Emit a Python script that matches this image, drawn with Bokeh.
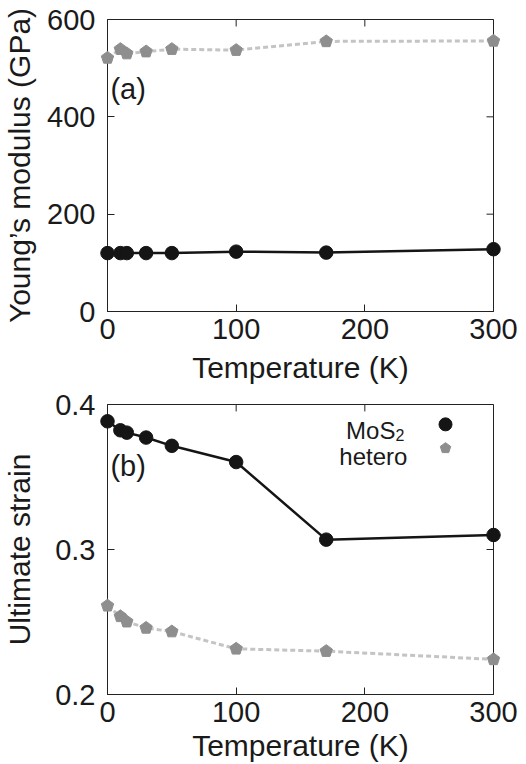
from bokeh.plotting import figure
from bokeh.models import Range1d, FixedTicker, Label
from bokeh.layouts import column
from bokeh.embed import file_html
from bokeh.resources import INLINE

# ---------------- data ----------------
temperature = [0, 10, 15, 30, 50, 100, 170, 300]
young_mos2 = [120, 120, 120, 120, 120, 123, 121, 128]
young_hetero = [521, 539, 530, 534, 539, 537, 555, 556]
strain_mos2 = [0.3884, 0.3822, 0.3806, 0.3772, 0.3715, 0.3603, 0.3068, 0.3100]
strain_hetero = [0.2612, 0.2539, 0.2502, 0.2459, 0.2434, 0.2315, 0.2299, 0.2242]

x_ticks = [0, 100, 200, 300]
young_ticks = [0, 200, 400, 600]
strain_ticks = [0.2, 0.3, 0.4]

FONT = "Liberation Sans"
TXT = "#1a1a1a"
AXC = "#222222"
BLACK = "#151515"
GRAY_MK = "#8e8e8e"
GRAY_LN = "#c4c4c4"

FRAME_W = 386
TICK_LEN = 7


def style_axes(p, xt, yt, ylab, x_label_standoff, y_label_standoff, frame_h):
    for ax in p.xaxis + p.yaxis:
        ax.major_label_text_font = FONT
        ax.major_label_text_font_size = "29px"
        ax.major_label_text_color = TXT
        ax.axis_label_text_font = FONT
        ax.axis_label_text_font_size = "30px"
        ax.axis_label_text_font_style = "normal"
        ax.axis_label_text_color = TXT
        ax.axis_line_color = AXC
        ax.major_tick_line_color = AXC
        ax.major_tick_in = TICK_LEN
        ax.major_tick_out = 0
        ax.minor_tick_line_color = None
    p.xaxis.ticker = FixedTicker(ticks=xt)
    p.yaxis.ticker = FixedTicker(ticks=yt)
    p.xaxis.axis_label = "Temperature (K)"
    p.yaxis.axis_label = ylab
    p.xaxis.major_label_standoff = 7
    p.yaxis.major_label_standoff = 12
    p.xaxis.axis_label_standoff = x_label_standoff
    p.yaxis.axis_label_standoff = y_label_standoff
    p.xgrid.grid_line_color = None
    p.ygrid.grid_line_color = None
    p.outline_line_color = AXC
    # mirrored inward ticks on the top and right edges of the frame
    x0, x1 = p.x_range.start, p.x_range.end
    y0, y1 = p.y_range.start, p.y_range.end
    dy = (y1 - y0) * TICK_LEN / frame_h
    dx = (x1 - x0) * TICK_LEN / FRAME_W
    p.segment(x0=xt, y0=[y1] * len(xt), x1=xt, y1=[y1 - dy] * len(xt),
              line_color=AXC, line_width=1)
    p.segment(x0=[x1] * len(yt), y0=yt, x1=[x1 - dx] * len(yt), y1=yt,
              line_color=AXC, line_width=1)


def add_series(p, ym, yh):
    p.line(temperature, yh, line_color=GRAY_LN, line_width=3, line_dash="5 3")
    p.ngon(x=temperature, y=yh, radius=6.5, radius_units="screen", n=5,
           fill_color=GRAY_MK, line_color=GRAY_MK, line_width=1, level="overlay")
    p.line(temperature, ym, line_color=BLACK, line_width=2.5)
    p.scatter(temperature, ym, marker="circle", size=13.5, fill_color=BLACK,
              line_color=BLACK, level="overlay")


# ---------------- (a) Young's modulus ----------------
p1 = figure(width=526, height=386, output_backend="svg", toolbar_location=None,
            x_range=Range1d(0, 300), y_range=Range1d(0, 600),
            min_border_left=107, min_border_right=33, min_border_top=19, min_border_bottom=74)
style_axes(p1, x_ticks, young_ticks, "Young\u2019s modulus (GPa)", 9, 8, 293)
add_series(p1, young_mos2, young_hetero)
p1.add_layout(Label(x=2.3, y=457, text="(a)", text_font=FONT, text_font_size="29px",
                    text_color=TXT, text_baseline="middle", text_align="left"))

# ---------------- (b) Ultimate strain ----------------
p2 = figure(width=526, height=378, output_backend="svg", toolbar_location=None,
            x_range=Range1d(0, 300), y_range=Range1d(0.2, 0.4),
            min_border_left=107, min_border_right=33, min_border_top=18, min_border_bottom=68)
style_axes(p2, x_ticks, strain_ticks, "Ultimate strain", 4, 16, 292)
add_series(p2, strain_mos2, strain_hetero)
p2.add_layout(Label(x=2.3, y=0.3575, text="(b)", text_font=FONT, text_font_size="29px",
                    text_color=TXT, text_baseline="middle", text_align="left"))

# legend (text left, key right)
legend_key_x = 262.7
legend_y_mos2 = 0.3863
legend_y_hetero = 0.3699
p2.add_layout(Label(x=223.8, y=0.3822, text="MoS", text_font=FONT, text_font_size="24px",
                    text_color=TXT, text_align="right", text_baseline="alphabetic"))
p2.add_layout(Label(x=223.8, y=0.3788, text="2", text_font=FONT, text_font_size="16px",
                    text_color=TXT, text_align="left", text_baseline="alphabetic"))
p2.add_layout(Label(x=233.1, y=0.3644, text="hetero", text_font=FONT, text_font_size="24px",
                    text_color=TXT, text_align="right", text_baseline="alphabetic"))
p2.scatter([legend_key_x], [legend_y_mos2], marker="circle", size=13,
           fill_color=BLACK, line_color=BLACK)
p2.ngon(x=[legend_key_x], y=[legend_y_hetero], radius=5.5, radius_units="screen", n=5,
        fill_color=GRAY_MK, line_color=GRAY_MK)

layout = column(p1, p2)
open("out.html", "w").write(file_html(layout, INLINE))
